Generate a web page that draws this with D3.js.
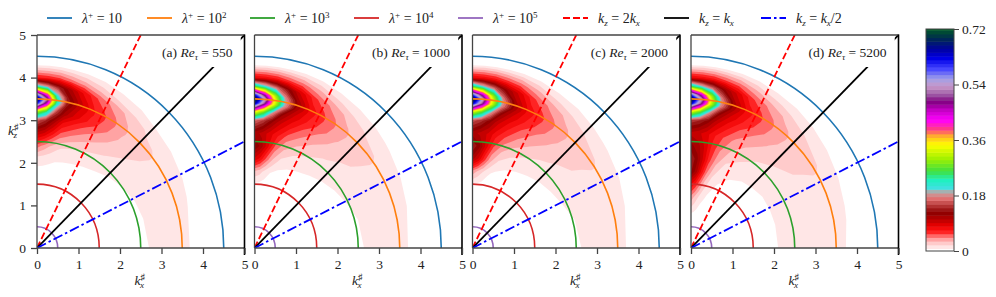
<!DOCTYPE html>
<html lang="en">
<head>
<meta charset="UTF-8">
<title>Spectra in the kx-kz plane</title>
<script src="https://cdn.jsdelivr.net/npm/d3@7"></script>
<style>
  body { margin: 0; background: #fff; }
  svg { display: block; font-family: "Liberation Serif", "DejaVu Serif", serif; }
</style>
</head>
<body>
<svg id="chart" width="996" height="297"></svg>
<script>
// spectra read on a polar grid: angle measured from the kz axis (deg), radius in k#
var thetaDeg = [0, 4, 8, 12, 17, 23, 30, 38, 46, 55, 65, 75, 90];
var radii = [0, 0.8, 1.2, 1.5, 1.8, 2.1, 2.4, 2.7, 3.0, 3.2, 3.4, 3.5, 3.6, 3.8, 4.0, 4.3, 4.6];

var specA = [
  [0, 0, 0, 0, 0, 0, 0, 0, 0, 0, 0, 0, 0],
  [0, 0, 0, 0, 0, 0, 0, 0, 0, 0, 0, 0, 0],
  [0, 0, 0, 0, 0, 0, 0, 0, 0, 0, 0, 0, 0],
  [0, 0, 0, 0, 0, 0, 0, 0, 0, 0, 0, 0, 0],
  [.004, .004, .003, .002, 0, 0, 0, 0, 0, 0, 0, 0, 0],
  [.014, .013, .011, .009, .008, .007, .006, .005, .003, .001, 0, 0, 0],
  [.05, .04, .03, .022, .017, .014, .012, .01, .008, .006, .004, .003, .002],
  [.10, .09, .07, .05, .04, .032, .025, .019, .015, .012, .01, .009, .008],
  [.16, .14, .11, .08, .065, .05, .038, .027, .02, .016, .013, .011, .01],
  [.30, .24, .15, .11, .085, .065, .048, .031, .022, .018, .015, .013, .011],
  [.62, .45, .22, .13, .095, .07, .052, .033, .023, .019, .016, .014, .012],
  [.70, .52, .25, .14, .10, .07, .052, .033, .023, .019, .016, .014, .012],
  [.58, .42, .21, .13, .095, .065, .048, .031, .022, .018, .015, .012, .01],
  [.22, .18, .14, .11, .08, .055, .038, .025, .017, .013, .01, .007, .005],
  [.07, .065, .06, .05, .04, .028, .018, .012, .008, .006, .004, .002, .001],
  [.006, .006, .005, .004, .003, .002, 0, 0, 0, 0, 0, 0, 0],
  [0, 0, 0, 0, 0, 0, 0, 0, 0, 0, 0, 0, 0]
];
var specB = [
  [0, 0, 0, 0, 0, 0, 0, 0, 0, 0, 0, 0, 0],
  [0, 0, 0, 0, 0, 0, 0, 0, 0, 0, 0, 0, 0],
  [0, 0, 0, 0, 0, 0, 0, 0, 0, 0, 0, 0, 0],
  [.006, .005, .003, 0, 0, 0, 0, 0, 0, 0, 0, 0, 0],
  [.03, .025, .015, .008, .004, .002, 0, 0, 0, 0, 0, 0, 0],
  [.09, .075, .05, .03, .015, .011, .009, .007, .005, .003, .001, 0, 0],
  [.13, .11, .08, .05, .032, .022, .017, .013, .011, .009, .007, .005, .004],
  [.11, .10, .085, .07, .05, .038, .028, .021, .017, .014, .012, .01, .009],
  [.17, .15, .12, .095, .075, .055, .04, .029, .022, .018, .015, .012, .011],
  [.35, .28, .18, .12, .09, .068, .05, .033, .024, .019, .016, .013, .012],
  [.66, .50, .33, .19, .11, .073, .054, .035, .025, .02, .017, .014, .013],
  [.72, .56, .35, .20, .12, .075, .054, .035, .025, .02, .017, .014, .013],
  [.62, .47, .31, .18, .11, .07, .05, .033, .024, .019, .015, .012, .011],
  [.26, .21, .17, .13, .09, .058, .04, .026, .018, .014, .011, .008, .005],
  [.08, .075, .07, .06, .05, .035, .022, .014, .01, .007, .004, .003, .001],
  [.006, .006, .005, .004, .003, .002, 0, 0, 0, 0, 0, 0, 0],
  [0, 0, 0, 0, 0, 0, 0, 0, 0, 0, 0, 0, 0]
];
var specC = [
  [0, 0, 0, 0, 0, 0, 0, 0, 0, 0, 0, 0, 0],
  [0, 0, 0, 0, 0, 0, 0, 0, 0, 0, 0, 0, 0],
  [0, 0, 0, 0, 0, 0, 0, 0, 0, 0, 0, 0, 0],
  [.008, .006, .004, .002, 0, 0, 0, 0, 0, 0, 0, 0, 0],
  [.04, .03, .02, .01, .005, .002, 0, 0, 0, 0, 0, 0, 0],
  [.11, .09, .06, .035, .018, .012, .009, .007, .005, .004, .002, .001, 0],
  [.14, .12, .085, .055, .035, .024, .018, .014, .012, .01, .008, .006, .005],
  [.11, .10, .09, .072, .055, .04, .03, .022, .018, .015, .012, .01, .009],
  [.16, .145, .12, .095, .075, .056, .041, .03, .023, .019, .015, .013, .011],
  [.33, .27, .18, .12, .09, .068, .05, .034, .025, .02, .016, .014, .012],
  [.65, .50, .32, .18, .11, .073, .055, .036, .026, .021, .017, .015, .013],
  [.72, .55, .34, .19, .115, .075, .055, .036, .026, .021, .017, .015, .013],
  [.60, .46, .30, .17, .105, .07, .05, .034, .025, .02, .016, .013, .011],
  [.25, .20, .16, .12, .09, .058, .04, .027, .019, .015, .011, .008, .005],
  [.08, .075, .07, .06, .05, .035, .022, .015, .01, .007, .005, .003, .001],
  [.006, .006, .005, .004, .003, .002, 0, 0, 0, 0, 0, 0, 0],
  [0, 0, 0, 0, 0, 0, 0, 0, 0, 0, 0, 0, 0]
];
var specD = [
  [0, 0, 0, 0, 0, 0, 0, 0, 0, 0, 0, 0, 0],
  [.006, .005, .003, 0, 0, 0, 0, 0, 0, 0, 0, 0, 0],
  [.04, .03, .02, .012, .006, .003, 0, 0, 0, 0, 0, 0, 0],
  [.08, .065, .045, .025, .012, .006, .004, .002, 0, 0, 0, 0, 0],
  [.13, .11, .075, .045, .022, .011, .007, .005, .004, .003, .002, .001, .001],
  [.14, .12, .09, .06, .035, .018, .013, .01, .009, .008, .008, .008, .008],
  [.12, .11, .09, .065, .045, .03, .022, .016, .014, .012, .011, .01, .009],
  [.10, .095, .085, .07, .055, .04, .031, .023, .019, .016, .013, .011, .01],
  [.15, .14, .12, .095, .075, .056, .042, .031, .024, .02, .016, .013, .012],
  [.33, .27, .18, .12, .09, .068, .051, .035, .026, .021, .017, .014, .013],
  [.65, .50, .32, .18, .11, .073, .055, .037, .027, .022, .018, .015, .014],
  [.72, .55, .34, .19, .115, .075, .055, .037, .027, .022, .018, .015, .014],
  [.60, .46, .30, .17, .105, .07, .051, .035, .026, .021, .017, .014, .012],
  [.25, .20, .16, .12, .09, .058, .041, .028, .02, .015, .012, .009, .006],
  [.08, .075, .07, .06, .05, .035, .023, .016, .011, .008, .005, .003, .002],
  [.006, .006, .005, .004, .003, .002, 0, 0, 0, 0, 0, 0, 0],
  [0, 0, 0, 0, 0, 0, 0, 0, 0, 0, 0, 0, 0]
];

var panelTags = ["(a)", "(b)", "(c)", "(d)"];
var reTau = [550, 1000, 2000, 5200];
var lambdaExp = [1, 2, 3, 4, 5];
var lambdaRadius = [4.5, 3.5, 2.5, 1.5, 0.5];
var raySlopes = [2, 1, 0.5];
var axisTicks = [0, 1, 2, 3, 4, 5];
var cbarTicks = [0, 0.18, 0.36, 0.54, 0.72];

var specs = [specA, specB, specC, specD];

// styles
var lambdaColors = ["#1f77b4", "#ff7f0e", "#2ca02c", "#d62728", "#9467bd"];
var rayColors = ["#ff0000", "#000000", "#0000ff"];
var rayDash = ["7,3", null, "10,3,2.5,3"];
var cmapStops = [
  [0, "#ffffff"], [0.015, "#ffe4e4"], [0.03, "#ffc2c2"], [0.045, "#ff8888"], [0.06, "#ff2828"],
  [0.08, "#f00000"], [0.1, "#c00000"], [0.125, "#8c0000"], [0.15, "#b83a3a"], [0.17, "#e07070"],
  [0.19, "#c8a0a0"], [0.205, "#40e0e0"], [0.23, "#20f0c0"], [0.26, "#40e040"], [0.3, "#a0f000"],
  [0.345, "#ffff00"], [0.37, "#ffc020"], [0.395, "#ff4080"], [0.425, "#ff00ff"], [0.46, "#c000c0"],
  [0.485, "#800080"], [0.51, "#a060a8"], [0.535, "#c898c8"], [0.56, "#a0a0e8"], [0.59, "#4848ff"],
  [0.625, "#0000e8"], [0.655, "#0000a0"], [0.69, "#002a50"], [0.72, "#005a28"]
];
var cmap = d3.scaleLinear()
  .domain(cmapStops.map(function(d) { return d[0]; }))
  .range(cmapStops.map(function(d) { return d[1]; }))
  .clamp(true);

var svg = d3.select("#chart");
var panelLeft = [37, 254.5, 472.5, 691], panelW = 207.5, plotTop = 35, plotBottom = 248;
var axisGrey = "#444";

// small helper for math-like labels: parts are [text, "n"|"sup"|"sub", italic, dx]
function mathText(t, parts) {
  var shift = 0;
  parts.forEach(function(p) {
    var target = p[1] === "sup" ? -5 : p[1] === "sub" ? 3 : 0;
    var s = t.append("tspan").text(p[0]).attr("dy", target - shift);
    shift = target;
    if (p[1] !== "n") s.attr("font-size", 9);
    if (p[2]) s.attr("font-style", "italic");
    if (p[3]) s.attr("dx", p[3]);
  });
  return t;
}

var nx = thetaDeg.length, ny = radii.length;
var colToTheta = d3.scaleLinear().domain(d3.range(nx)).range(thetaDeg).clamp(true);
var rowToR = d3.scaleLinear().domain(d3.range(ny)).range(radii).clamp(true);
var thresholds = d3.range(0.008, 0.72, 0.012);
var contourGen = d3.contours().size([nx, ny]).thresholds(thresholds);

specs.forEach(function(spec, p) {
  var x = d3.scaleLinear().domain([0, 5]).range([panelLeft[p], panelLeft[p] + panelW]);
  var y = d3.scaleLinear().domain([0, 5]).range([plotBottom, plotTop]);
  var g = svg.append("g");

  svg.append("clipPath").attr("id", "clip" + p)
    .append("rect").attr("x", x(0)).attr("y", y(5))
    .attr("width", x(5) - x(0)).attr("height", y(0) - y(5));

  var plot = g.append("g").attr("clip-path", "url(#clip" + p + ")");

  // filled contours, grid index -> polar -> kx, kz
  var polar = d3.geoTransform({
    point: function(cx, cy) {
      var th = colToTheta(cx - 0.5) * Math.PI / 180, r = rowToR(cy - 0.5);
      this.stream.point(x(r * Math.sin(th)), y(r * Math.cos(th)));
    }
  });
  var path = d3.geoPath(polar);
  plot.selectAll("path.lev")
    .data(contourGen(spec.flat()))
    .enter().append("path")
    .attr("class", "lev")
    .attr("d", path)
    .attr("fill", function(d) { return cmap(d.value + 0.006); });

  // lambda+ circles
  var ky = (y(0) - y(1)) / (x(1) - x(0));
  lambdaRadius.forEach(function(r, i) {
    var pp = d3.path();
    var R = x(r) - x(0);
    pp.arc(0, 0, R, -Math.PI / 2, 0);
    plot.append("path")
      .attr("d", pp.toString())
      .attr("transform", "translate(" + x(0) + "," + y(0) + ") scale(1," + ky + ")")
      .attr("vector-effect", "non-scaling-stroke")
      .attr("fill", "none")
      .attr("stroke", lambdaColors[i])
      .attr("stroke-width", 1.6);
  });

  // kz = c kx rays
  var line = d3.line().x(function(d) { return x(d[0]); }).y(function(d) { return y(d[1]); });
  raySlopes.forEach(function(s, i) {
    var xe = Math.min(5, 5 / s);
    plot.append("path")
      .attr("d", line([[0, 0], [xe, xe * s]]))
      .attr("fill", "none")
      .attr("stroke", rayColors[i])
      .attr("stroke-width", 1.8)
      .attr("stroke-dasharray", rayDash[i]);
  });

  // panel label on a white box
  var lab = g.append("text")
    .attr("x", x(5) - 12).attr("y", 57)
    .attr("text-anchor", "end")
    .attr("font-size", 13.5)
    .attr("fill", "#222");
  mathText(lab, [[panelTags[p] + " ", "n"], ["Re", "n", true], ["τ", "sub", true], [" = " + reTau[p], "n"]]);
  var bb = lab.node().getBBox();
  g.insert("rect", "text")
    .attr("x", bb.x - 6).attr("y", bb.y - 8)
    .attr("width", bb.width + 14).attr("height", bb.height + 13)
    .attr("fill", "#fff");

  // spines
  g.append("line").attr("x1", x(0)).attr("x2", x(5)).attr("y1", y(0)).attr("y2", y(0))
    .attr("stroke", axisGrey).attr("stroke-width", 1.3);
  g.append("line").attr("x1", x(0)).attr("x2", x(5)).attr("y1", y(5)).attr("y2", y(5))
    .attr("stroke", axisGrey).attr("stroke-width", 1.3);
  g.append("line").attr("x1", x(0)).attr("x2", x(0)).attr("y1", y(0)).attr("y2", y(5))
    .attr("stroke", axisGrey).attr("stroke-width", 1.3);
  g.append("line").attr("x1", x(5)).attr("x2", x(5)).attr("y1", y(5) - 0.6).attr("y2", y(0) + 7)
    .attr("stroke", "#000").attr("stroke-width", 1.6);

  // x axis
  var xa = g.append("g").attr("transform", "translate(0," + y(0) + ")")
    .call(d3.axisBottom(x).tickValues(axisTicks).tickSize(6).tickPadding(5).tickFormat(d3.format("d")));
  xa.attr("font-family", null).attr("font-size", 13.5);
  xa.select(".domain").remove();
  xa.selectAll("line").attr("stroke", axisGrey).attr("stroke-width", 1.3);
  xa.selectAll("text").attr("fill", "#222");

  var xl = g.append("text").attr("x", (x(0) + x(5)) / 2 - 1).attr("y", 285)
    .attr("text-anchor", "middle").attr("font-size", 13.5).attr("fill", "#222");
  mathText(xl, [["k", "n", true], ["♯", "sup"], ["x", "sub", true, -5]]);

  if (p === 0) {
    var ya = g.append("g").attr("transform", "translate(" + x(0) + ",0)")
      .call(d3.axisLeft(y).tickValues(axisTicks).tickSize(6).tickPadding(5).tickFormat(d3.format("d")));
    ya.attr("font-family", null).attr("font-size", 13.5);
    ya.select(".domain").remove();
    ya.selectAll("line").attr("stroke", axisGrey).attr("stroke-width", 1.3);
    ya.selectAll("text").attr("fill", "#222");

    var yl = g.append("text").attr("x", 8).attr("y", 135)
      .attr("font-size", 13.5).attr("fill", "#222");
    mathText(yl, [["k", "n", true], ["♯", "sup"], ["z", "sub", true, -5]]);
  }
});

// legend
var legendX = [47, 147, 250, 354, 458, 563, 664, 761];
var legendY = 18;
var legendItems = [];
lambdaExp.forEach(function(e, i) {
  var parts = [["λ", "n", true], ["+", "sup"], [" = 10", "n"]];
  if (e > 1) parts.push([String(e), "sup"]);
  legendItems.push({ color: lambdaColors[i], dash: null, parts: parts });
});
var rayText = [
  [["k", "n", true], ["z", "sub", true], [" = 2", "n"], ["k", "n", true], ["x", "sub", true]],
  [["k", "n", true], ["z", "sub", true], [" = ", "n"], ["k", "n", true], ["x", "sub", true]],
  [["k", "n", true], ["z", "sub", true], [" = ", "n"], ["k", "n", true], ["x", "sub", true], ["/2", "n"]]
];
raySlopes.forEach(function(s, i) {
  legendItems.push({ color: rayColors[i], dash: rayDash[i], parts: rayText[i] });
});
var leg = svg.append("g");
legendItems.forEach(function(d, i) {
  leg.append("line")
    .attr("x1", legendX[i]).attr("x2", legendX[i] + 25)
    .attr("y1", legendY).attr("y2", legendY)
    .attr("stroke", d.color).attr("stroke-width", 1.8)
    .attr("stroke-dasharray", d.dash);
  var t = leg.append("text").attr("x", legendX[i] + 35).attr("y", legendY + 4.5)
    .attr("font-size", 14).attr("fill", "#222");
  mathText(t, d.parts);
});

// colorbar
var cbX = 926, cbW = 28;
var cbY = d3.scaleLinear().domain([0, 0.72]).range([251, 29]);
var cbLevels = [0].concat(thresholds, [0.72]);
var cb = svg.append("g");
cb.selectAll("rect.lev")
  .data(d3.range(cbLevels.length - 1))
  .enter().append("rect")
  .attr("x", cbX).attr("width", cbW)
  .attr("y", function(i) { return cbY(cbLevels[i + 1]); })
  .attr("height", function(i) { return cbY(cbLevels[i]) - cbY(cbLevels[i + 1]) + 0.5; })
  .attr("fill", function(i) { return i === 0 ? "#fff" : cmap(cbLevels[i] + 0.006); });
cb.append("rect").attr("x", cbX).attr("y", cbY(0.72)).attr("width", cbW)
  .attr("height", cbY(0) - cbY(0.72)).attr("fill", "none").attr("stroke", axisGrey).attr("stroke-width", 1);
var cba = cb.append("g").attr("transform", "translate(" + (cbX + cbW) + ",0)")
  .call(d3.axisRight(cbY).tickValues(cbarTicks).tickSize(5).tickPadding(3)
    .tickFormat(function(d) { return d === 0 ? "0" : d3.format(".2f")(d); }));
cba.attr("font-family", null).attr("font-size", 13.5);
cba.select(".domain").remove();
cba.selectAll("line").attr("stroke", axisGrey);
cba.selectAll("text").attr("fill", "#222");
</script>
</body>
</html>
